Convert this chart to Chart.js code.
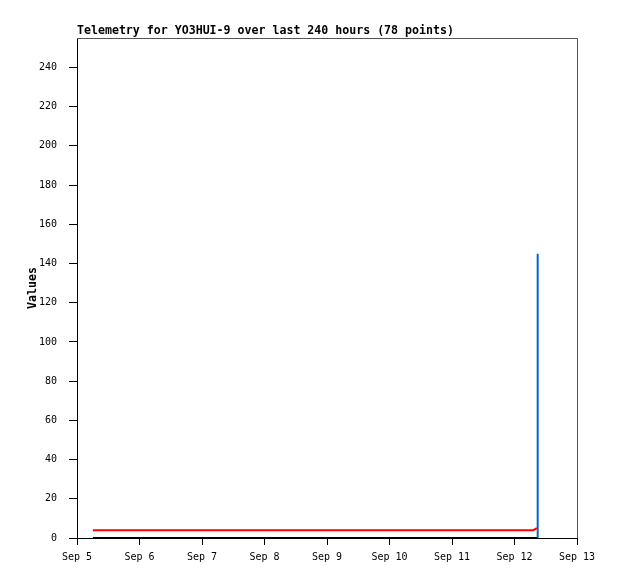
<!DOCTYPE html>
<html>
<head>
<meta charset="utf-8">
<script src="https://cdn.jsdelivr.net/npm/chart.js@4.4.1/dist/chart.umd.min.js"></script>
<style>
  html, body { margin: 0; padding: 0; background: #fff; }
</style>
</head>
<body>
<canvas id="telemetryChart" width="618" height="579"></canvas>
<script>
// Telemetry chart data
const chartTitle = 'Telemetry for YO3HUI-9 over last 240 hours (78 points)';
const dayLabels = ['Sep 5', 'Sep 6', 'Sep 7', 'Sep 8', 'Sep 9', 'Sep 10', 'Sep 11', 'Sep 12', 'Sep 13'];
const yTicks = [0, 20, 40, 60, 80, 100, 120, 140, 160, 180, 200, 220, 240];

// hours since Sep 5 00:00
const hours = [6.1, 14.5, 23.8, 33.2, 41.9, 50.4, 59.7, 68.3, 77.6, 86.1, 95.4, 104.0, 113.2, 121.9, 131.5, 140.1, 149.6, 158.2, 167.4, 175.2, 176.6];
const redValues = [4, 4, 4, 4, 4, 4, 4, 4, 4, 4, 4, 4, 4, 4, 4, 4, 4, 4, 4, 4, 5];
const blackValues = [0, 0, 0, 0, 0, 0, 0, 0, 0, 0, 0, 0, 0, 0, 0, 0, 0, 0, 0, 0, 0];
const blueHours = [176.85, 176.9];
const blueValues = [0, 145];

function toPoints(xs, ys) {
    return xs.map(function (x, i) { return { x: x, y: ys[i] }; });
}

const tickFont = { family: '"DejaVu Sans Mono", monospace', size: 10 };

// title + top/right frame
const framePlugin = {
    id: 'frame',
    afterDraw: function (chart) {
        const c = chart.ctx;
        const a = chart.chartArea;
        c.save();
        c.strokeStyle = '#555';
        c.lineWidth = 1;
        c.beginPath();
        c.moveTo(a.left, a.top + 0.5);
        c.lineTo(a.right + 0.5, a.top + 0.5);
        c.lineTo(a.right + 0.5, a.bottom);
        c.stroke();
        c.fillStyle = '#000';
        c.font = 'bold 11.6px "DejaVu Sans Mono", monospace';
        c.textBaseline = 'alphabetic';
        c.fillText(chartTitle, a.left, 34);
        c.restore();
    }
};

const ctx = document.getElementById('telemetryChart').getContext('2d');
const telemetryChart = new Chart(ctx, {
    type: 'line',
    data: {
        datasets: [{
            data: toPoints(hours, blackValues),
            borderColor: '#000000',
            borderWidth: 2
        }, {
            data: toPoints(hours, redValues),
            borderColor: '#ff0000',
            borderWidth: 2
        }, {
            data: toPoints(blueHours, blueValues),
            borderColor: '#0066cc',
            borderWidth: 2
        }]
    },
    options: {
        responsive: false,
        animation: false,
        layout: { padding: { left: 26, right: 41, top: 38, bottom: 0 } },
        elements: { point: { radius: 0 }, line: { tension: 0 } },
        plugins: {
            legend: { display: false },
            tooltip: { enabled: false }
        },
        scales: {
            x: {
                type: 'linear',
                min: 0,
                max: 192,
                afterFit: function (s) { s.height = 41; },
                grid: { drawOnChartArea: false, drawTicks: true, tickLength: 7, color: '#000' },
                border: { color: '#000' },
                ticks: {
                    stepSize: 24,
                    color: '#000',
                    font: tickFont,
                    padding: 6,
                    maxRotation: 0,
                    callback: function (v) { return dayLabels[v / 24]; }
                }
            },
            y: {
                min: 0,
                max: 255,
                afterFit: function (s) { s.width = 51; },
                afterBuildTicks: function (s) {
                    s.ticks = yTicks.map(function (v) { return { value: v }; });
                },
                grid: { drawOnChartArea: false, drawTicks: true, tickLength: 8, color: '#000' },
                border: { color: '#000' },
                ticks: { color: '#000', font: tickFont, padding: 12 },
                title: {
                    display: true,
                    text: 'Values',
                    color: '#000',
                    font: { family: '"DejaVu Sans Mono", monospace', size: 11.6, weight: 'bold' },
                    padding: 0
                }
            }
        }
    },
    plugins: [framePlugin]
});
</script>
</body>
</html>
